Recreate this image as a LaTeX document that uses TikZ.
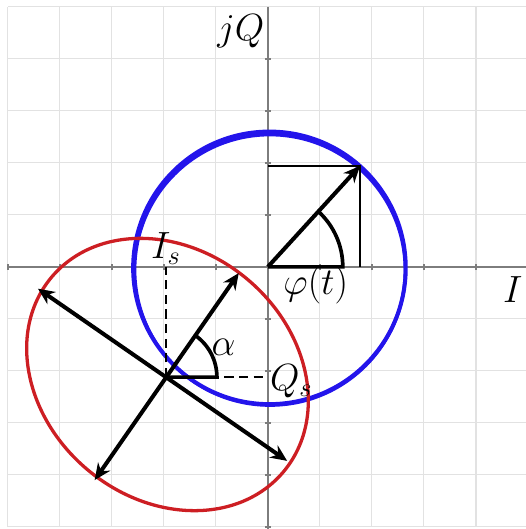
\documentclass[tikz,border=0pt]{standalone}
\usepackage{amsmath}
\usetikzlibrary{arrows.meta}
\definecolor{phasorblue}{RGB}{35,20,235}
\definecolor{phasorred}{RGB}{205,30,35}
\definecolor{gridgray}{RGB}{226,226,226}
\definecolor{axisgray}{RGB}{125,125,125}

\begin{document}
\begin{tikzpicture}[
			gridline/.style={gridgray, line width=0.6pt},
			axisline/.style={axisgray, line width=0.8pt},
			vec/.style={-{Stealth[length=9pt,width=8pt]}, line width=2.2pt, black},
			dvec/.style={{Stealth[length=9pt,width=8pt]}-{Stealth[length=9pt,width=8pt]}, line width=2.2pt, black},
			anglearc/.style={line width=2pt, black},
			guide/.style={black, line width=1pt},
			dashguide/.style={black, line width=1.3pt, dash pattern=on 5pt off 3pt},
			lab/.style={font=\fontsize{20}{24}\selectfont, inner sep=1pt}
		]
			\useasboundingbox (-5.15,-5.04) rectangle (4.96,5.13);
			\begin{scope}
				\clip (-5.15,-5.04) rectangle (4.96,5.13);
				\draw[gridline] (-5,-5) grid (5,5);
			\end{scope}
			\draw[axisline] (-5,0) -- (4.96,0);
			\draw[axisline] (0,5) -- (0,-5.04);
			\foreach \k in {-5,...,4} {
				\draw[axisline] (\k,-0.06) -- (\k,0.06);
				\draw[axisline] (-0.06,\k) -- (0.06,\k);
			}
			\coordinate (O) at (0,0);
			\coordinate (P) at (1.77,1.94);
			\coordinate (C) at (-1.96,-2.12);
			\coordinate (E) at (-1.93,-2.07);
			\coordinate (A1) at (-0.56,-0.12);
			\coordinate (A2) at (-3.33,-4.10);
			\coordinate (B1) at (-4.42,-0.42);
			\coordinate (B2) at (0.37,-3.73);
			\draw[phasorblue, line width=2.2pt] (0.03,-0.02) circle (2.62);
			\draw[phasorblue, line width=1.8pt] (0.04,-0.06) circle (2.60);
			\draw[phasorred, line width=1.8pt, rotate around={-40:(E)}] (E) ellipse [x radius=2.91, y radius=2.39];
			\draw[guide] (O |- P) -- (P) -- (P |- O);
			\draw[vec] (O) -- (P);
			\draw[anglearc] (O) -- ++(1.44,0) arc[start angle=0, end angle=47.6, radius=1.44];
			\draw[dashguide] (C) -- (C |- O);
			\draw[dashguide] (C) -- (O |- C);
			\draw[anglearc] (C) -- ++(0.98,0) arc[start angle=0, end angle=55, radius=0.98];
			\draw[dvec] (A2) -- (A1);
			\draw[dvec] (B1) -- (B2);
			\node[lab] (jq) at (-0.52,4.52) {$jQ$};
			\node[lab] (ilab) at (4.71,-0.44) {$I$};
			\node[lab] (phi) at (0.92,-0.35) {$\varphi(t)$};
			\node[lab, anchor=south] (is) at (C |- O) {$I_s$};
			\node[lab, anchor=west, yshift=-2.5pt] (qs) at (O |- C) {$Q_s$};
			\node[lab] (al) at (-0.85,-1.54) {$\alpha$};
		\end{tikzpicture}
\end{document}
